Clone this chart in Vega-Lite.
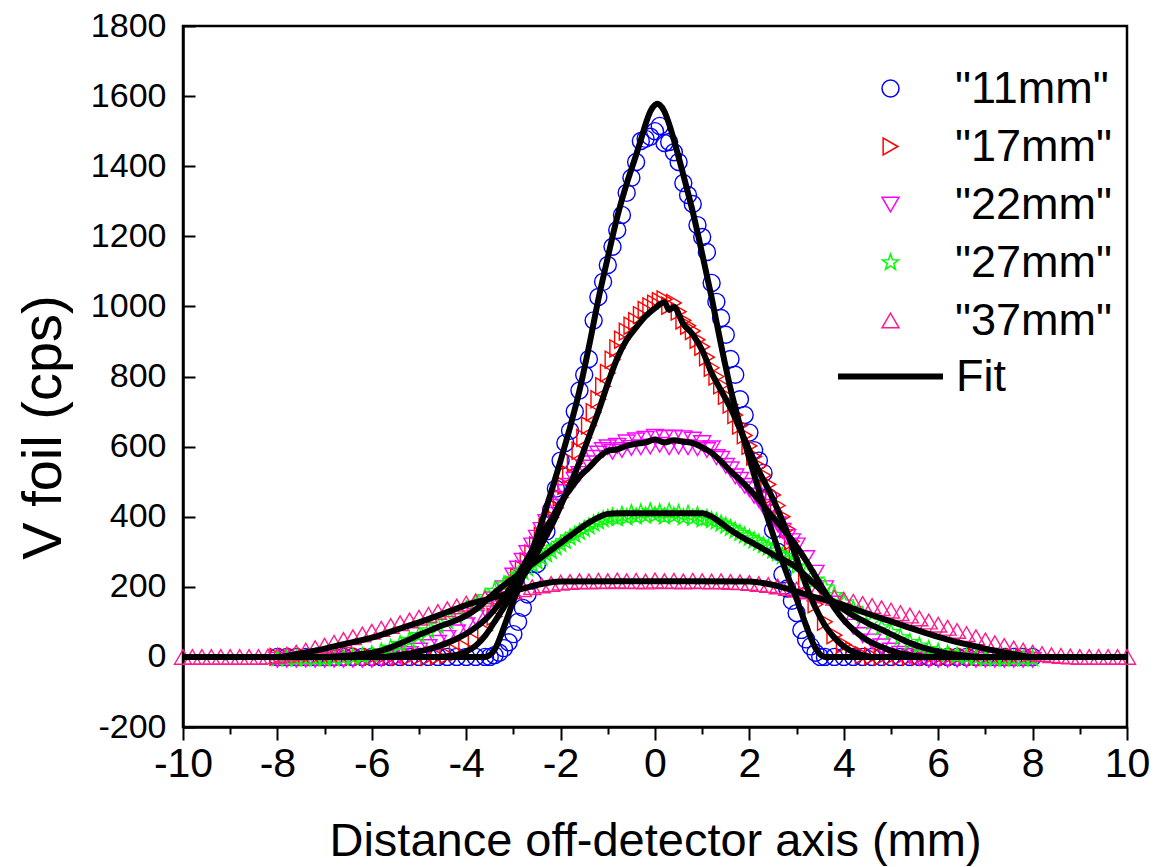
{
"$schema": "https://vega.github.io/schema/vega-lite/v6.json",
"width": 944, "height": 701,
"autosize": {"type": "none"},
"padding": {"left": 183, "top": 26, "right": 32, "bottom": 140},
"background": "white",
"config": {
  "view": {"stroke": "black", "strokeWidth": 2.5},
  "axis": {"domainColor": "black", "domainWidth": 2.5, "tickColor": "black", "tickWidth": 2, "labelColor": "black", "titleColor": "black", "grid": false, "labelFont": "Liberation Sans", "titleFont": "Liberation Sans", "titleFontWeight": "normal", "labelOverlap": false, "labelFlush": false, "labelBound": false},
  "legend": {"labelFont": "Liberation Sans", "labelColor": "black"}
},
"datasets": {
"pts": [
{"x":-8,"y":0,"s":"11mm"},{"x":-7.8,"y":0,"s":"11mm"},{"x":-7.6,"y":0,"s":"11mm"},{"x":-7.4,"y":0,"s":"11mm"},{"x":-7.2,"y":0,"s":"11mm"},{"x":-7,"y":0,"s":"11mm"},{"x":-6.8,"y":0,"s":"11mm"},{"x":-6.6,"y":0,"s":"11mm"},{"x":-6.4,"y":0,"s":"11mm"},{"x":-6.2,"y":0,"s":"11mm"},{"x":-6,"y":0,"s":"11mm"},{"x":-5.8,"y":0,"s":"11mm"},{"x":-5.6,"y":0,"s":"11mm"},{"x":-5.4,"y":0,"s":"11mm"},{"x":-5.2,"y":0,"s":"11mm"},{"x":-5,"y":0,"s":"11mm"},{"x":-4.8,"y":0,"s":"11mm"},{"x":-4.6,"y":0,"s":"11mm"},{"x":-4.4,"y":0,"s":"11mm"},{"x":-4.2,"y":0,"s":"11mm"},{"x":-4,"y":0,"s":"11mm"},{"x":-3.8,"y":0,"s":"11mm"},{"x":-3.6,"y":0,"s":"11mm"},
{"x":-3.5,"y":0,"s":"11mm"},{"x":-3.4,"y":5,"s":"11mm"},{"x":-3.3,"y":12,"s":"11mm"},{"x":-3.2,"y":25,"s":"11mm"},{"x":-3.1,"y":42,"s":"11mm"},{"x":-3,"y":65,"s":"11mm"},{"x":-2.9,"y":100,"s":"11mm"},{"x":-2.8,"y":140,"s":"11mm"},{"x":-2.7,"y":178,"s":"11mm"},{"x":-2.6,"y":218,"s":"11mm"},{"x":-2.5,"y":265,"s":"11mm"},{"x":-2.4,"y":310,"s":"11mm"},{"x":-2.3,"y":358,"s":"11mm"},{"x":-2.2,"y":420,"s":"11mm"},{"x":-2.1,"y":480,"s":"11mm"},{"x":-2,"y":560,"s":"11mm"},{"x":-1.9,"y":610,"s":"11mm"},{"x":-1.8,"y":645,"s":"11mm"},{"x":-1.7,"y":700,"s":"11mm"},{"x":-1.6,"y":760,"s":"11mm"},{"x":-1.5,"y":805,"s":"11mm"},{"x":-1.4,"y":850,"s":"11mm"},{"x":-1.3,"y":960,"s":"11mm"},{"x":-1.2,"y":1027,"s":"11mm"},{"x":-1.1,"y":1070,"s":"11mm"},{"x":-1,"y":1118,"s":"11mm"},{"x":-0.9,"y":1170,"s":"11mm"},{"x":-0.8,"y":1218,"s":"11mm"},{"x":-0.7,"y":1261,"s":"11mm"},{"x":-0.6,"y":1324,"s":"11mm"},{"x":-0.5,"y":1367,"s":"11mm"},{"x":-0.4,"y":1412,"s":"11mm"},{"x":-0.3,"y":1472,"s":"11mm"},{"x":-0.2,"y":1478,"s":"11mm"},{"x":-0.1,"y":1484,"s":"11mm"},{"x":0,"y":1500,"s":"11mm"},{"x":0.1,"y":1515,"s":"11mm"},{"x":0.2,"y":1466,"s":"11mm"},{"x":0.3,"y":1469,"s":"11mm"},{"x":0.4,"y":1440,"s":"11mm"},{"x":0.5,"y":1412,"s":"11mm"},{"x":0.6,"y":1352,"s":"11mm"},{"x":0.7,"y":1318,"s":"11mm"},{"x":0.8,"y":1292,"s":"11mm"},{"x":0.9,"y":1232,"s":"11mm"},{"x":1,"y":1198,"s":"11mm"},{"x":1.1,"y":1155,"s":"11mm"},{"x":1.2,"y":1067,"s":"11mm"},{"x":1.3,"y":1013,"s":"11mm"},{"x":1.4,"y":967,"s":"11mm"},{"x":1.5,"y":919,"s":"11mm"},{"x":1.6,"y":850,"s":"11mm"},{"x":1.7,"y":805,"s":"11mm"},{"x":1.8,"y":735,"s":"11mm"},{"x":1.9,"y":690,"s":"11mm"},{"x":2,"y":640,"s":"11mm"},{"x":2.1,"y":590,"s":"11mm"},{"x":2.2,"y":560,"s":"11mm"},{"x":2.3,"y":525,"s":"11mm"},{"x":2.4,"y":456,"s":"11mm"},{"x":2.5,"y":362,"s":"11mm"},{"x":2.6,"y":300,"s":"11mm"},{"x":2.7,"y":235,"s":"11mm"},{"x":2.8,"y":195,"s":"11mm"},{"x":2.9,"y":160,"s":"11mm"},{"x":3,"y":125,"s":"11mm"},{"x":3.1,"y":77,"s":"11mm"},{"x":3.2,"y":50,"s":"11mm"},{"x":3.3,"y":30,"s":"11mm"},{"x":3.4,"y":12,"s":"11mm"},{"x":3.5,"y":0,"s":"11mm"},
{"x":3.6,"y":0,"s":"11mm"},{"x":3.8,"y":0,"s":"11mm"},{"x":4,"y":0,"s":"11mm"},{"x":4.2,"y":0,"s":"11mm"},{"x":4.4,"y":0,"s":"11mm"},{"x":4.6,"y":0,"s":"11mm"},{"x":4.8,"y":0,"s":"11mm"},{"x":5,"y":0,"s":"11mm"},{"x":5.2,"y":0,"s":"11mm"},{"x":5.4,"y":0,"s":"11mm"},{"x":5.6,"y":0,"s":"11mm"},{"x":5.8,"y":0,"s":"11mm"},{"x":6,"y":0,"s":"11mm"},{"x":6.2,"y":0,"s":"11mm"},{"x":6.4,"y":0,"s":"11mm"},{"x":6.6,"y":0,"s":"11mm"},{"x":6.8,"y":0,"s":"11mm"},{"x":7,"y":0,"s":"11mm"},{"x":7.2,"y":0,"s":"11mm"},{"x":7.4,"y":0,"s":"11mm"},{"x":7.6,"y":0,"s":"11mm"},{"x":7.8,"y":0,"s":"11mm"},{"x":8,"y":0,"s":"11mm"},

{"x":-8,"y":0,"s":"17mm"},{"x":-7.8,"y":0,"s":"17mm"},{"x":-7.6,"y":0,"s":"17mm"},{"x":-7.4,"y":0,"s":"17mm"},{"x":-7.2,"y":0,"s":"17mm"},{"x":-7,"y":0,"s":"17mm"},{"x":-6.8,"y":0,"s":"17mm"},{"x":-6.6,"y":0,"s":"17mm"},{"x":-6.4,"y":0,"s":"17mm"},{"x":-6.2,"y":0,"s":"17mm"},{"x":-6,"y":0,"s":"17mm"},{"x":-5.8,"y":0,"s":"17mm"},{"x":-5.6,"y":0,"s":"17mm"},{"x":-5.4,"y":0,"s":"17mm"},{"x":-5.2,"y":0,"s":"17mm"},{"x":-5,"y":0,"s":"17mm"},
{"x":-4.8,"y":0,"s":"17mm"},{"x":-4.6,"y":2,"s":"17mm"},{"x":-4.4,"y":5,"s":"17mm"},{"x":-4.2,"y":12,"s":"17mm"},{"x":-4,"y":25,"s":"17mm"},{"x":-3.8,"y":45,"s":"17mm"},{"x":-3.6,"y":75,"s":"17mm"},{"x":-3.4,"y":115,"s":"17mm"},{"x":-3.2,"y":160,"s":"17mm"},
{"x":-3,"y":205,"s":"17mm"},{"x":-2.9,"y":228,"s":"17mm"},{"x":-2.8,"y":250,"s":"17mm"},{"x":-2.7,"y":272,"s":"17mm"},{"x":-2.6,"y":295,"s":"17mm"},{"x":-2.5,"y":318,"s":"17mm"},{"x":-2.4,"y":345,"s":"17mm"},{"x":-2.3,"y":370,"s":"17mm"},{"x":-2.2,"y":398,"s":"17mm"},{"x":-2.1,"y":425,"s":"17mm"},{"x":-2,"y":455,"s":"17mm"},{"x":-1.9,"y":488,"s":"17mm"},{"x":-1.8,"y":520,"s":"17mm"},{"x":-1.7,"y":552,"s":"17mm"},{"x":-1.6,"y":588,"s":"17mm"},{"x":-1.5,"y":625,"s":"17mm"},{"x":-1.4,"y":660,"s":"17mm"},{"x":-1.3,"y":698,"s":"17mm"},{"x":-1.2,"y":735,"s":"17mm"},{"x":-1.1,"y":772,"s":"17mm"},{"x":-1,"y":810,"s":"17mm"},{"x":-0.9,"y":848,"s":"17mm"},{"x":-0.8,"y":880,"s":"17mm"},{"x":-0.7,"y":905,"s":"17mm"},{"x":-0.6,"y":928,"s":"17mm"},{"x":-0.5,"y":945,"s":"17mm"},{"x":-0.4,"y":958,"s":"17mm"},{"x":-0.3,"y":975,"s":"17mm"},{"x":-0.2,"y":990,"s":"17mm"},{"x":-0.1,"y":1000,"s":"17mm"},{"x":0,"y":1008,"s":"17mm"},{"x":0.1,"y":1015,"s":"17mm"},{"x":0.2,"y":1020,"s":"17mm"},{"x":0.3,"y":1002,"s":"17mm"},{"x":0.4,"y":1010,"s":"17mm"},{"x":0.5,"y":985,"s":"17mm"},{"x":0.6,"y":960,"s":"17mm"},{"x":0.7,"y":945,"s":"17mm"},{"x":0.8,"y":930,"s":"17mm"},{"x":0.9,"y":905,"s":"17mm"},{"x":1,"y":885,"s":"17mm"},{"x":1.1,"y":855,"s":"17mm"},{"x":1.2,"y":825,"s":"17mm"},{"x":1.3,"y":800,"s":"17mm"},{"x":1.4,"y":775,"s":"17mm"},{"x":1.5,"y":745,"s":"17mm"},{"x":1.6,"y":720,"s":"17mm"},{"x":1.7,"y":690,"s":"17mm"},{"x":1.8,"y":660,"s":"17mm"},{"x":1.9,"y":632,"s":"17mm"},{"x":2,"y":602,"s":"17mm"},{"x":2.1,"y":572,"s":"17mm"},{"x":2.2,"y":545,"s":"17mm"},{"x":2.3,"y":518,"s":"17mm"},{"x":2.4,"y":492,"s":"17mm"},{"x":2.5,"y":462,"s":"17mm"},{"x":2.6,"y":432,"s":"17mm"},{"x":2.7,"y":400,"s":"17mm"},{"x":2.8,"y":365,"s":"17mm"},{"x":2.9,"y":330,"s":"17mm"},{"x":3,"y":290,"s":"17mm"},
{"x":3.2,"y":215,"s":"17mm"},{"x":3.4,"y":150,"s":"17mm"},{"x":3.6,"y":100,"s":"17mm"},{"x":3.8,"y":62,"s":"17mm"},{"x":4,"y":35,"s":"17mm"},{"x":4.2,"y":18,"s":"17mm"},{"x":4.4,"y":5,"s":"17mm"},{"x":4.6,"y":2,"s":"17mm"},{"x":4.8,"y":0,"s":"17mm"},{"x":5,"y":0,"s":"17mm"},{"x":5.2,"y":0,"s":"17mm"},{"x":5.4,"y":0,"s":"17mm"},{"x":5.6,"y":0,"s":"17mm"},{"x":5.8,"y":0,"s":"17mm"},{"x":6,"y":0,"s":"17mm"},{"x":6.2,"y":0,"s":"17mm"},{"x":6.4,"y":0,"s":"17mm"},{"x":6.6,"y":0,"s":"17mm"},{"x":6.8,"y":0,"s":"17mm"},{"x":7,"y":0,"s":"17mm"},{"x":7.2,"y":0,"s":"17mm"},{"x":7.4,"y":0,"s":"17mm"},{"x":7.6,"y":0,"s":"17mm"},{"x":7.8,"y":0,"s":"17mm"},{"x":8,"y":0,"s":"17mm"},

{"x":-8,"y":-8,"s":"22mm"},{"x":-7.8,"y":-8,"s":"22mm"},{"x":-7.6,"y":-8,"s":"22mm"},{"x":-7.4,"y":-8,"s":"22mm"},{"x":-7.2,"y":-8,"s":"22mm"},{"x":-7,"y":-8,"s":"22mm"},{"x":-6.8,"y":-8,"s":"22mm"},{"x":-6.6,"y":-8,"s":"22mm"},{"x":-6.4,"y":-8,"s":"22mm"},{"x":-6.2,"y":-8,"s":"22mm"},{"x":-6,"y":-8,"s":"22mm"},
{"x":-5.8,"y":-6,"s":"22mm"},{"x":-5.6,"y":-3,"s":"22mm"},{"x":-5.4,"y":2,"s":"22mm"},{"x":-5.2,"y":8,"s":"22mm"},{"x":-5,"y":18,"s":"22mm"},{"x":-4.8,"y":28,"s":"22mm"},{"x":-4.6,"y":40,"s":"22mm"},{"x":-4.4,"y":54,"s":"22mm"},{"x":-4.2,"y":70,"s":"22mm"},{"x":-4,"y":90,"s":"22mm"},{"x":-3.8,"y":112,"s":"22mm"},{"x":-3.6,"y":136,"s":"22mm"},{"x":-3.4,"y":164,"s":"22mm"},{"x":-3.2,"y":196,"s":"22mm"},
{"x":-3,"y":232,"s":"22mm"},{"x":-2.9,"y":252,"s":"22mm"},{"x":-2.8,"y":274,"s":"22mm"},{"x":-2.7,"y":296,"s":"22mm"},{"x":-2.6,"y":318,"s":"22mm"},{"x":-2.5,"y":340,"s":"22mm"},{"x":-2.4,"y":362,"s":"22mm"},{"x":-2.3,"y":385,"s":"22mm"},{"x":-2.2,"y":405,"s":"22mm"},{"x":-2.1,"y":428,"s":"22mm"},{"x":-2,"y":450,"s":"22mm"},{"x":-1.9,"y":470,"s":"22mm"},{"x":-1.8,"y":488,"s":"22mm"},{"x":-1.7,"y":505,"s":"22mm"},{"x":-1.6,"y":522,"s":"22mm"},{"x":-1.5,"y":540,"s":"22mm"},{"x":-1.4,"y":552,"s":"22mm"},{"x":-1.3,"y":568,"s":"22mm"},{"x":-1.2,"y":580,"s":"22mm"},{"x":-1.1,"y":590,"s":"22mm"},{"x":-1,"y":598,"s":"22mm"},{"x":-0.9,"y":585,"s":"22mm"},{"x":-0.8,"y":602,"s":"22mm"},{"x":-0.7,"y":590,"s":"22mm"},{"x":-0.6,"y":612,"s":"22mm"},{"x":-0.5,"y":596,"s":"22mm"},{"x":-0.4,"y":618,"s":"22mm"},{"x":-0.3,"y":598,"s":"22mm"},{"x":-0.2,"y":622,"s":"22mm"},{"x":-0.1,"y":600,"s":"22mm"},{"x":0,"y":628,"s":"22mm"},{"x":0.1,"y":605,"s":"22mm"},{"x":0.2,"y":625,"s":"22mm"},{"x":0.3,"y":598,"s":"22mm"},{"x":0.4,"y":626,"s":"22mm"},{"x":0.5,"y":600,"s":"22mm"},{"x":0.6,"y":624,"s":"22mm"},{"x":0.7,"y":598,"s":"22mm"},{"x":0.8,"y":620,"s":"22mm"},{"x":0.9,"y":595,"s":"22mm"},{"x":1,"y":610,"s":"22mm"},{"x":1.1,"y":590,"s":"22mm"},{"x":1.2,"y":595,"s":"22mm"},{"x":1.3,"y":570,"s":"22mm"},{"x":1.4,"y":565,"s":"22mm"},{"x":1.5,"y":545,"s":"22mm"},{"x":1.6,"y":535,"s":"22mm"},{"x":1.7,"y":515,"s":"22mm"},{"x":1.8,"y":505,"s":"22mm"},{"x":1.9,"y":488,"s":"22mm"},{"x":2,"y":478,"s":"22mm"},{"x":2.1,"y":460,"s":"22mm"},{"x":2.2,"y":448,"s":"22mm"},{"x":2.3,"y":428,"s":"22mm"},{"x":2.4,"y":412,"s":"22mm"},{"x":2.5,"y":395,"s":"22mm"},{"x":2.6,"y":378,"s":"22mm"},{"x":2.7,"y":360,"s":"22mm"},{"x":2.8,"y":342,"s":"22mm"},{"x":2.9,"y":330,"s":"22mm"},{"x":3,"y":318,"s":"22mm"},
{"x":3.2,"y":282,"s":"22mm"},{"x":3.4,"y":240,"s":"22mm"},{"x":3.6,"y":196,"s":"22mm"},{"x":3.8,"y":152,"s":"22mm"},{"x":4,"y":115,"s":"22mm"},{"x":4.2,"y":86,"s":"22mm"},{"x":4.4,"y":62,"s":"22mm"},{"x":4.6,"y":44,"s":"22mm"},{"x":4.8,"y":30,"s":"22mm"},{"x":5,"y":18,"s":"22mm"},{"x":5.2,"y":9,"s":"22mm"},{"x":5.4,"y":2,"s":"22mm"},{"x":5.6,"y":-3,"s":"22mm"},{"x":5.8,"y":-8,"s":"22mm"},{"x":6,"y":-8,"s":"22mm"},{"x":6.2,"y":-8,"s":"22mm"},{"x":6.4,"y":-8,"s":"22mm"},{"x":6.6,"y":-8,"s":"22mm"},{"x":6.8,"y":-8,"s":"22mm"},{"x":7,"y":-8,"s":"22mm"},{"x":7.2,"y":-8,"s":"22mm"},{"x":7.4,"y":-8,"s":"22mm"},{"x":7.6,"y":-8,"s":"22mm"},{"x":7.8,"y":-8,"s":"22mm"},{"x":8,"y":-8,"s":"22mm"},

{"x":-8,"y":-5,"s":"27mm"},{"x":-7.8,"y":-5,"s":"27mm"},{"x":-7.6,"y":-5,"s":"27mm"},{"x":-7.4,"y":-5,"s":"27mm"},{"x":-7.2,"y":-5,"s":"27mm"},{"x":-7,"y":-5,"s":"27mm"},
{"x":-6.8,"y":-4,"s":"27mm"},{"x":-6.6,"y":-3,"s":"27mm"},{"x":-6.4,"y":-1,"s":"27mm"},{"x":-6.2,"y":2,"s":"27mm"},{"x":-6,"y":7,"s":"27mm"},{"x":-5.8,"y":15,"s":"27mm"},{"x":-5.6,"y":25,"s":"27mm"},{"x":-5.4,"y":36,"s":"27mm"},{"x":-5.2,"y":48,"s":"27mm"},{"x":-5,"y":62,"s":"27mm"},{"x":-4.8,"y":75,"s":"27mm"},{"x":-4.6,"y":88,"s":"27mm"},{"x":-4.4,"y":102,"s":"27mm"},{"x":-4.2,"y":118,"s":"27mm"},{"x":-4,"y":135,"s":"27mm"},{"x":-3.8,"y":152,"s":"27mm"},{"x":-3.6,"y":170,"s":"27mm"},{"x":-3.4,"y":188,"s":"27mm"},{"x":-3.2,"y":206,"s":"27mm"},
{"x":-3,"y":222,"s":"27mm"},{"x":-2.9,"y":232,"s":"27mm"},{"x":-2.8,"y":242,"s":"27mm"},{"x":-2.7,"y":252,"s":"27mm"},{"x":-2.6,"y":262,"s":"27mm"},{"x":-2.5,"y":272,"s":"27mm"},{"x":-2.4,"y":282,"s":"27mm"},{"x":-2.3,"y":292,"s":"27mm"},{"x":-2.2,"y":302,"s":"27mm"},{"x":-2.1,"y":312,"s":"27mm"},{"x":-2,"y":322,"s":"27mm"},{"x":-1.9,"y":330,"s":"27mm"},{"x":-1.8,"y":340,"s":"27mm"},{"x":-1.7,"y":348,"s":"27mm"},{"x":-1.6,"y":356,"s":"27mm"},{"x":-1.5,"y":364,"s":"27mm"},{"x":-1.4,"y":372,"s":"27mm"},{"x":-1.3,"y":380,"s":"27mm"},{"x":-1.2,"y":386,"s":"27mm"},{"x":-1.1,"y":392,"s":"27mm"},{"x":-1,"y":396,"s":"27mm"},{"x":-0.9,"y":400,"s":"27mm"},{"x":-0.8,"y":395,"s":"27mm"},{"x":-0.7,"y":405,"s":"27mm"},{"x":-0.6,"y":398,"s":"27mm"},{"x":-0.5,"y":410,"s":"27mm"},{"x":-0.4,"y":400,"s":"27mm"},{"x":-0.3,"y":412,"s":"27mm"},{"x":-0.2,"y":402,"s":"27mm"},{"x":-0.1,"y":415,"s":"27mm"},{"x":0,"y":404,"s":"27mm"},{"x":0.1,"y":412,"s":"27mm"},{"x":0.2,"y":400,"s":"27mm"},{"x":0.3,"y":414,"s":"27mm"},{"x":0.4,"y":402,"s":"27mm"},{"x":0.5,"y":410,"s":"27mm"},{"x":0.6,"y":398,"s":"27mm"},{"x":0.7,"y":408,"s":"27mm"},{"x":0.8,"y":396,"s":"27mm"},{"x":0.9,"y":404,"s":"27mm"},{"x":1,"y":392,"s":"27mm"},{"x":1.1,"y":396,"s":"27mm"},{"x":1.2,"y":390,"s":"27mm"},{"x":1.3,"y":386,"s":"27mm"},{"x":1.4,"y":380,"s":"27mm"},{"x":1.5,"y":374,"s":"27mm"},{"x":1.6,"y":367,"s":"27mm"},{"x":1.7,"y":360,"s":"27mm"},{"x":1.8,"y":353,"s":"27mm"},{"x":1.9,"y":346,"s":"27mm"},{"x":2,"y":339,"s":"27mm"},{"x":2.1,"y":332,"s":"27mm"},{"x":2.2,"y":325,"s":"27mm"},{"x":2.3,"y":318,"s":"27mm"},{"x":2.4,"y":311,"s":"27mm"},{"x":2.5,"y":303,"s":"27mm"},{"x":2.6,"y":295,"s":"27mm"},{"x":2.7,"y":287,"s":"27mm"},{"x":2.8,"y":278,"s":"27mm"},{"x":2.9,"y":268,"s":"27mm"},{"x":3,"y":258,"s":"27mm"},
{"x":3.2,"y":240,"s":"27mm"},{"x":3.4,"y":220,"s":"27mm"},{"x":3.6,"y":198,"s":"27mm"},{"x":3.8,"y":176,"s":"27mm"},{"x":4,"y":155,"s":"27mm"},{"x":4.2,"y":136,"s":"27mm"},{"x":4.4,"y":118,"s":"27mm"},{"x":4.6,"y":100,"s":"27mm"},{"x":4.8,"y":84,"s":"27mm"},{"x":5,"y":70,"s":"27mm"},{"x":5.2,"y":55,"s":"27mm"},{"x":5.4,"y":42,"s":"27mm"},{"x":5.6,"y":32,"s":"27mm"},{"x":5.8,"y":22,"s":"27mm"},{"x":6,"y":14,"s":"27mm"},{"x":6.2,"y":8,"s":"27mm"},{"x":6.4,"y":3,"s":"27mm"},{"x":6.6,"y":0,"s":"27mm"},{"x":6.8,"y":-3,"s":"27mm"},{"x":7,"y":-5,"s":"27mm"},{"x":7.2,"y":-5,"s":"27mm"},{"x":7.4,"y":-5,"s":"27mm"},{"x":7.6,"y":-5,"s":"27mm"},{"x":7.8,"y":-5,"s":"27mm"},{"x":8,"y":-5,"s":"27mm"},

{"x":-10,"y":0,"s":"37mm"},{"x":-9.8,"y":0,"s":"37mm"},{"x":-9.6,"y":0,"s":"37mm"},{"x":-9.4,"y":0,"s":"37mm"},{"x":-9.2,"y":0,"s":"37mm"},{"x":-9,"y":0,"s":"37mm"},{"x":-8.8,"y":0,"s":"37mm"},{"x":-8.6,"y":0,"s":"37mm"},{"x":-8.4,"y":0,"s":"37mm"},{"x":-8.2,"y":1,"s":"37mm"},{"x":-8,"y":3,"s":"37mm"},{"x":-7.8,"y":6,"s":"37mm"},{"x":-7.6,"y":12,"s":"37mm"},{"x":-7.4,"y":18,"s":"37mm"},{"x":-7.2,"y":25,"s":"37mm"},{"x":-7,"y":32,"s":"37mm"},{"x":-6.8,"y":40,"s":"37mm"},{"x":-6.6,"y":48,"s":"37mm"},{"x":-6.4,"y":56,"s":"37mm"},{"x":-6.2,"y":64,"s":"37mm"},{"x":-6,"y":72,"s":"37mm"},{"x":-5.8,"y":80,"s":"37mm"},{"x":-5.6,"y":88,"s":"37mm"},{"x":-5.4,"y":96,"s":"37mm"},{"x":-5.2,"y":104,"s":"37mm"},{"x":-5,"y":112,"s":"37mm"},{"x":-4.8,"y":120,"s":"37mm"},{"x":-4.6,"y":128,"s":"37mm"},{"x":-4.4,"y":136,"s":"37mm"},{"x":-4.2,"y":144,"s":"37mm"},{"x":-4,"y":152,"s":"37mm"},{"x":-3.8,"y":159,"s":"37mm"},{"x":-3.6,"y":166,"s":"37mm"},{"x":-3.4,"y":173,"s":"37mm"},{"x":-3.2,"y":180,"s":"37mm"},{"x":-3,"y":187,"s":"37mm"},{"x":-2.8,"y":193,"s":"37mm"},{"x":-2.6,"y":199,"s":"37mm"},{"x":-2.4,"y":204,"s":"37mm"},{"x":-2.2,"y":208,"s":"37mm"},{"x":-2,"y":212,"s":"37mm"},{"x":-1.8,"y":214,"s":"37mm"},{"x":-1.6,"y":216,"s":"37mm"},{"x":-1.4,"y":215,"s":"37mm"},{"x":-1.2,"y":217,"s":"37mm"},{"x":-1,"y":216,"s":"37mm"},{"x":-0.8,"y":218,"s":"37mm"},{"x":-0.6,"y":216,"s":"37mm"},{"x":-0.4,"y":217,"s":"37mm"},{"x":-0.2,"y":215,"s":"37mm"},{"x":0,"y":218,"s":"37mm"},{"x":0.2,"y":216,"s":"37mm"},{"x":0.4,"y":217,"s":"37mm"},{"x":0.6,"y":215,"s":"37mm"},{"x":0.8,"y":217,"s":"37mm"},{"x":1,"y":216,"s":"37mm"},{"x":1.2,"y":215,"s":"37mm"},{"x":1.4,"y":216,"s":"37mm"},{"x":1.6,"y":214,"s":"37mm"},{"x":1.8,"y":213,"s":"37mm"},{"x":2,"y":211,"s":"37mm"},{"x":2.2,"y":208,"s":"37mm"},{"x":2.4,"y":205,"s":"37mm"},{"x":2.6,"y":201,"s":"37mm"},{"x":2.8,"y":197,"s":"37mm"},{"x":3,"y":192,"s":"37mm"},{"x":3.2,"y":187,"s":"37mm"},{"x":3.4,"y":181,"s":"37mm"},{"x":3.6,"y":175,"s":"37mm"},{"x":3.8,"y":169,"s":"37mm"},{"x":4,"y":163,"s":"37mm"},{"x":4.2,"y":157,"s":"37mm"},{"x":4.4,"y":151,"s":"37mm"},{"x":4.6,"y":145,"s":"37mm"},{"x":4.8,"y":139,"s":"37mm"},{"x":5,"y":132,"s":"37mm"},{"x":5.2,"y":125,"s":"37mm"},{"x":5.4,"y":118,"s":"37mm"},{"x":5.6,"y":110,"s":"37mm"},{"x":5.8,"y":101,"s":"37mm"},{"x":6,"y":92,"s":"37mm"},{"x":6.2,"y":83,"s":"37mm"},{"x":6.4,"y":74,"s":"37mm"},{"x":6.6,"y":65,"s":"37mm"},{"x":6.8,"y":56,"s":"37mm"},{"x":7,"y":47,"s":"37mm"},{"x":7.2,"y":39,"s":"37mm"},{"x":7.4,"y":31,"s":"37mm"},{"x":7.6,"y":24,"s":"37mm"},{"x":7.8,"y":18,"s":"37mm"},{"x":8,"y":12,"s":"37mm"},{"x":8.2,"y":8,"s":"37mm"},{"x":8.4,"y":5,"s":"37mm"},{"x":8.6,"y":3,"s":"37mm"},{"x":8.8,"y":1,"s":"37mm"},{"x":9,"y":0,"s":"37mm"},{"x":9.2,"y":0,"s":"37mm"},{"x":9.4,"y":0,"s":"37mm"},{"x":9.6,"y":0,"s":"37mm"},{"x":9.8,"y":0,"s":"37mm"},{"x":10,"y":0,"s":"37mm"}
],
"fit": [
{"x":-8,"y":0,"s":"11mm"},{"x":-3.6,"y":0,"s":"11mm"},{"x":-3.4,"y":20,"s":"11mm"},{"x":-3.2,"y":85,"s":"11mm"},{"x":-3,"y":160,"s":"11mm"},{"x":-2.8,"y":230,"s":"11mm"},{"x":-2.6,"y":305,"s":"11mm"},{"x":-2.4,"y":385,"s":"11mm"},{"x":-2.2,"y":470,"s":"11mm"},{"x":-2,"y":560,"s":"11mm"},{"x":-1.8,"y":655,"s":"11mm"},{"x":-1.6,"y":760,"s":"11mm"},{"x":-1.4,"y":885,"s":"11mm"},{"x":-1.2,"y":1020,"s":"11mm"},{"x":-1,"y":1140,"s":"11mm"},{"x":-0.8,"y":1255,"s":"11mm"},{"x":-0.6,"y":1350,"s":"11mm"},{"x":-0.4,"y":1432,"s":"11mm"},{"x":-0.3,"y":1475,"s":"11mm"},{"x":-0.2,"y":1520,"s":"11mm"},{"x":-0.1,"y":1556,"s":"11mm"},{"x":0,"y":1575,"s":"11mm"},{"x":0.05,"y":1578,"s":"11mm"},{"x":0.1,"y":1575,"s":"11mm"},{"x":0.2,"y":1556,"s":"11mm"},{"x":0.3,"y":1520,"s":"11mm"},{"x":0.4,"y":1475,"s":"11mm"},{"x":0.6,"y":1375,"s":"11mm"},{"x":0.8,"y":1270,"s":"11mm"},{"x":1,"y":1150,"s":"11mm"},{"x":1.2,"y":1025,"s":"11mm"},{"x":1.4,"y":890,"s":"11mm"},{"x":1.6,"y":765,"s":"11mm"},{"x":1.8,"y":660,"s":"11mm"},{"x":2,"y":565,"s":"11mm"},{"x":2.2,"y":475,"s":"11mm"},{"x":2.4,"y":390,"s":"11mm"},{"x":2.6,"y":310,"s":"11mm"},{"x":2.8,"y":235,"s":"11mm"},{"x":3,"y":165,"s":"11mm"},{"x":3.2,"y":90,"s":"11mm"},{"x":3.4,"y":25,"s":"11mm"},{"x":3.6,"y":0,"s":"11mm"},{"x":8,"y":0,"s":"11mm"},
{"x":-8,"y":0,"s":"17mm"},{"x":-4.6,"y":0,"s":"17mm"},{"x":-4.4,"y":2,"s":"17mm"},{"x":-4.2,"y":6,"s":"17mm"},{"x":-4,"y":15,"s":"17mm"},{"x":-3.8,"y":32,"s":"17mm"},{"x":-3.6,"y":60,"s":"17mm"},{"x":-3.4,"y":100,"s":"17mm"},{"x":-3.2,"y":142,"s":"17mm"},{"x":-3,"y":185,"s":"17mm"},{"x":-2.8,"y":228,"s":"17mm"},{"x":-2.6,"y":272,"s":"17mm"},{"x":-2.4,"y":322,"s":"17mm"},{"x":-2.2,"y":372,"s":"17mm"},{"x":-2,"y":430,"s":"17mm"},{"x":-1.8,"y":492,"s":"17mm"},{"x":-1.6,"y":556,"s":"17mm"},{"x":-1.4,"y":628,"s":"17mm"},{"x":-1.2,"y":700,"s":"17mm"},{"x":-1,"y":780,"s":"17mm"},{"x":-0.8,"y":852,"s":"17mm"},{"x":-0.6,"y":905,"s":"17mm"},{"x":-0.4,"y":940,"s":"17mm"},{"x":-0.2,"y":972,"s":"17mm"},{"x":0,"y":995,"s":"17mm"},{"x":0.2,"y":1012,"s":"17mm"},{"x":0.3,"y":990,"s":"17mm"},{"x":0.4,"y":998,"s":"17mm"},{"x":0.6,"y":950,"s":"17mm"},{"x":0.8,"y":920,"s":"17mm"},{"x":1,"y":875,"s":"17mm"},{"x":1.2,"y":810,"s":"17mm"},{"x":1.4,"y":760,"s":"17mm"},{"x":1.6,"y":710,"s":"17mm"},{"x":1.8,"y":650,"s":"17mm"},{"x":2,"y":590,"s":"17mm"},{"x":2.2,"y":530,"s":"17mm"},{"x":2.4,"y":478,"s":"17mm"},{"x":2.6,"y":420,"s":"17mm"},{"x":2.8,"y":355,"s":"17mm"},{"x":3,"y":280,"s":"17mm"},{"x":3.2,"y":205,"s":"17mm"},{"x":3.4,"y":140,"s":"17mm"},{"x":3.6,"y":90,"s":"17mm"},{"x":3.8,"y":55,"s":"17mm"},{"x":4,"y":30,"s":"17mm"},{"x":4.2,"y":14,"s":"17mm"},{"x":4.4,"y":5,"s":"17mm"},{"x":4.6,"y":0,"s":"17mm"},{"x":8,"y":0,"s":"17mm"},
{"x":-8,"y":0,"s":"22mm"},{"x":-5.8,"y":0,"s":"22mm"},{"x":-5.6,"y":2,"s":"22mm"},{"x":-5.4,"y":6,"s":"22mm"},{"x":-5.2,"y":10,"s":"22mm"},{"x":-5,"y":15,"s":"22mm"},{"x":-4.8,"y":22,"s":"22mm"},{"x":-4.6,"y":30,"s":"22mm"},{"x":-4.4,"y":40,"s":"22mm"},{"x":-4.2,"y":52,"s":"22mm"},{"x":-4,"y":66,"s":"22mm"},{"x":-3.8,"y":84,"s":"22mm"},{"x":-3.6,"y":106,"s":"22mm"},{"x":-3.4,"y":135,"s":"22mm"},{"x":-3.2,"y":170,"s":"22mm"},{"x":-3,"y":212,"s":"22mm"},{"x":-2.8,"y":258,"s":"22mm"},{"x":-2.6,"y":305,"s":"22mm"},{"x":-2.4,"y":350,"s":"22mm"},{"x":-2.2,"y":392,"s":"22mm"},{"x":-2,"y":440,"s":"22mm"},{"x":-1.8,"y":478,"s":"22mm"},{"x":-1.6,"y":514,"s":"22mm"},{"x":-1.4,"y":540,"s":"22mm"},{"x":-1.2,"y":568,"s":"22mm"},{"x":-1,"y":588,"s":"22mm"},{"x":-0.8,"y":592,"s":"22mm"},{"x":-0.6,"y":602,"s":"22mm"},{"x":-0.4,"y":608,"s":"22mm"},{"x":-0.2,"y":612,"s":"22mm"},{"x":0,"y":620,"s":"22mm"},{"x":0.2,"y":612,"s":"22mm"},{"x":0.4,"y":618,"s":"22mm"},{"x":0.6,"y":614,"s":"22mm"},{"x":0.8,"y":610,"s":"22mm"},{"x":1,"y":598,"s":"22mm"},{"x":1.2,"y":582,"s":"22mm"},{"x":1.4,"y":558,"s":"22mm"},{"x":1.6,"y":530,"s":"22mm"},{"x":1.8,"y":505,"s":"22mm"},{"x":2,"y":478,"s":"22mm"},{"x":2.2,"y":448,"s":"22mm"},{"x":2.4,"y":415,"s":"22mm"},{"x":2.6,"y":382,"s":"22mm"},{"x":2.8,"y":350,"s":"22mm"},{"x":3,"y":315,"s":"22mm"},{"x":3.2,"y":275,"s":"22mm"},{"x":3.4,"y":230,"s":"22mm"},{"x":3.6,"y":185,"s":"22mm"},{"x":3.8,"y":140,"s":"22mm"},{"x":4,"y":105,"s":"22mm"},{"x":4.2,"y":78,"s":"22mm"},{"x":4.4,"y":56,"s":"22mm"},{"x":4.6,"y":40,"s":"22mm"},{"x":4.8,"y":28,"s":"22mm"},{"x":5,"y":18,"s":"22mm"},{"x":5.2,"y":10,"s":"22mm"},{"x":5.4,"y":5,"s":"22mm"},{"x":5.6,"y":2,"s":"22mm"},{"x":5.8,"y":0,"s":"22mm"},{"x":8,"y":0,"s":"22mm"},
{"x":-8,"y":0,"s":"27mm"},{"x":-7,"y":0,"s":"27mm"},{"x":-6.8,"y":1,"s":"27mm"},{"x":-6.6,"y":3,"s":"27mm"},{"x":-6.4,"y":5,"s":"27mm"},{"x":-6.2,"y":8,"s":"27mm"},{"x":-6,"y":12,"s":"27mm"},{"x":-5.8,"y":18,"s":"27mm"},{"x":-5.6,"y":27,"s":"27mm"},{"x":-5.4,"y":38,"s":"27mm"},{"x":-5.2,"y":50,"s":"27mm"},{"x":-5,"y":63,"s":"27mm"},{"x":-4.8,"y":74,"s":"27mm"},{"x":-4.6,"y":85,"s":"27mm"},{"x":-4.4,"y":95,"s":"27mm"},{"x":-4.2,"y":105,"s":"27mm"},{"x":-4,"y":118,"s":"27mm"},{"x":-3.8,"y":135,"s":"27mm"},{"x":-3.6,"y":158,"s":"27mm"},{"x":-3.4,"y":183,"s":"27mm"},{"x":-3.2,"y":205,"s":"27mm"},{"x":-3,"y":225,"s":"27mm"},{"x":-2.8,"y":245,"s":"27mm"},{"x":-2.6,"y":265,"s":"27mm"},{"x":-2.4,"y":285,"s":"27mm"},{"x":-2.2,"y":305,"s":"27mm"},{"x":-2,"y":325,"s":"27mm"},{"x":-1.8,"y":345,"s":"27mm"},{"x":-1.6,"y":365,"s":"27mm"},{"x":-1.4,"y":383,"s":"27mm"},{"x":-1.2,"y":398,"s":"27mm"},{"x":-1,"y":408,"s":"27mm"},{"x":-0.8,"y":410,"s":"27mm"},{"x":0,"y":410,"s":"27mm"},{"x":1,"y":410,"s":"27mm"},{"x":1.2,"y":400,"s":"27mm"},{"x":1.4,"y":382,"s":"27mm"},{"x":1.6,"y":362,"s":"27mm"},{"x":1.8,"y":345,"s":"27mm"},{"x":2,"y":330,"s":"27mm"},{"x":2.2,"y":315,"s":"27mm"},{"x":2.4,"y":300,"s":"27mm"},{"x":2.6,"y":285,"s":"27mm"},{"x":2.8,"y":272,"s":"27mm"},{"x":3,"y":255,"s":"27mm"},{"x":3.2,"y":230,"s":"27mm"},{"x":3.4,"y":205,"s":"27mm"},{"x":3.6,"y":180,"s":"27mm"},{"x":3.8,"y":155,"s":"27mm"},{"x":4,"y":135,"s":"27mm"},{"x":4.2,"y":118,"s":"27mm"},{"x":4.4,"y":104,"s":"27mm"},{"x":4.6,"y":90,"s":"27mm"},{"x":4.8,"y":78,"s":"27mm"},{"x":5,"y":65,"s":"27mm"},{"x":5.2,"y":52,"s":"27mm"},{"x":5.4,"y":40,"s":"27mm"},{"x":5.6,"y":30,"s":"27mm"},{"x":5.8,"y":22,"s":"27mm"},{"x":6,"y":15,"s":"27mm"},{"x":6.2,"y":10,"s":"27mm"},{"x":6.4,"y":6,"s":"27mm"},{"x":6.6,"y":3,"s":"27mm"},{"x":6.8,"y":1,"s":"27mm"},{"x":7,"y":0,"s":"27mm"},{"x":8,"y":0,"s":"27mm"},
{"x":-10,"y":0,"s":"37mm"},{"x":-8,"y":0,"s":"37mm"},{"x":-7.6,"y":8,"s":"37mm"},{"x":-7.2,"y":18,"s":"37mm"},{"x":-6.8,"y":30,"s":"37mm"},{"x":-6.4,"y":42,"s":"37mm"},{"x":-6,"y":55,"s":"37mm"},{"x":-5.6,"y":72,"s":"37mm"},{"x":-5.2,"y":90,"s":"37mm"},{"x":-4.8,"y":108,"s":"37mm"},{"x":-4.4,"y":128,"s":"37mm"},{"x":-4,"y":148,"s":"37mm"},{"x":-3.6,"y":163,"s":"37mm"},{"x":-3.2,"y":178,"s":"37mm"},{"x":-2.8,"y":195,"s":"37mm"},{"x":-2.4,"y":208,"s":"37mm"},{"x":-2,"y":215,"s":"37mm"},{"x":0,"y":216,"s":"37mm"},{"x":2,"y":215,"s":"37mm"},{"x":2.4,"y":208,"s":"37mm"},{"x":2.8,"y":195,"s":"37mm"},{"x":3.2,"y":178,"s":"37mm"},{"x":3.6,"y":163,"s":"37mm"},{"x":4,"y":148,"s":"37mm"},{"x":4.4,"y":128,"s":"37mm"},{"x":4.8,"y":110,"s":"37mm"},{"x":5.2,"y":92,"s":"37mm"},{"x":5.6,"y":74,"s":"37mm"},{"x":6,"y":57,"s":"37mm"},{"x":6.4,"y":42,"s":"37mm"},{"x":6.8,"y":30,"s":"37mm"},{"x":7.2,"y":18,"s":"37mm"},{"x":7.6,"y":8,"s":"37mm"},{"x":8,"y":0,"s":"37mm"},{"x":10,"y":0,"s":"37mm"}
]
},
"layer": [
{
 "data": {"name": "pts"},
 "mark": {"type": "point", "filled": false, "size": 289, "strokeWidth": 1.4, "opacity": 1},
 "encoding": {
  "x": {"field": "x", "type": "quantitative", "scale": {"domain": [-10, 10], "nice": false, "zero": false},
        "axis": {"values": [-10,-9,-8,-7,-6,-5,-4,-3,-2,-1,0,1,2,3,4,5,6,7,8,9,10],
                 "labelExpr": "datum.value % 2 === 0 ? '' + datum.value : ''",
                 "tickSize": {"condition": {"test": "datum.value % 2 !== 0", "value": 7}, "value": 13},
                 "labelFontSize": 41, "labelPadding": 4,
                 "title": "Distance off-detector axis (mm)", "titleFontSize": 47,
                 "titleBaseline": "alphabetic", "titleY": 128}},
  "y": {"field": "y", "type": "quantitative", "scale": {"domain": [-200, 1800], "nice": false, "zero": false},
        "axis": {"values": [-200,-100,0,100,200,300,400,500,600,700,800,900,1000,1100,1200,1300,1400,1500,1600,1700,1800],
                 "labelExpr": "datum.value % 200 === 0 ? '' + datum.value : ''",
                 "tickSize": {"condition": {"test": "datum.value % 200 !== 0", "value": -6}, "value": -12},
                 "labelFontSize": 34, "labelPadding": 29,
                 "title": "V foil (cps)", "titleFontSize": 56, "titleAngle": 270,
                 "titleBaseline": "alphabetic", "titleAlign": "center", "titleX": -123, "titleY": 401}},
  "color": {"field": "s", "type": "nominal",
            "scale": {"domain": ["11mm","17mm","22mm","27mm","37mm"], "range": ["#0000ff","#ff0000","#ff00ff","#00ff00","#ff1a8c"]},
            "legend": {"orient": "none", "legendX": 685, "legendY": 40, "title": null, "padding": 0,
                       "labelFontSize": 45, "labelOffset": 42, "rowPadding": 12, "symbolSize": 289, "symbolStrokeWidth": 1.5,
                       "labelExpr": "'\"' + datum.label + '\"'"}},
  "shape": {"field": "s", "type": "nominal",
            "scale": {"domain": ["11mm","17mm","22mm","27mm","37mm"], "range": ["circle","triangle-right","triangle-down","M0,-1L0.235,-0.324L0.951,-0.309L0.38,0.124L0.588,0.809L0,0.4L-0.588,0.809L-0.38,0.124L-0.951,-0.309L-0.235,-0.324Z","triangle-up"]},
            "legend": {"orient": "none", "legendX": 685, "legendY": 40, "title": null, "padding": 0,
                       "labelFontSize": 45, "labelOffset": 42, "rowPadding": 12, "symbolSize": 289, "symbolStrokeWidth": 1.5,
                       "labelExpr": "'\"' + datum.label + '\"'"}}
 }
},
{
 "data": {"name": "fit"},
 "mark": {"type": "line", "strokeWidth": 6, "interpolate": "monotone"},
 "encoding": {
  "x": {"field": "x", "type": "quantitative"},
  "y": {"field": "y", "type": "quantitative"},
  "detail": {"field": "s", "type": "nominal"},
  "stroke": {"datum": "Fit", "type": "nominal", "scale": {"range": ["black"]},
             "legend": {"orient": "none", "legendX": 652, "legendY": 295, "title": null, "padding": 0,
                        "symbolType": "stroke", "symbolSize": 11025, "symbolStrokeWidth": 6, "symbolStrokeColor": "black",
                        "labelFontSize": 45, "labelOffset": 10}}
 }
}
]
}
